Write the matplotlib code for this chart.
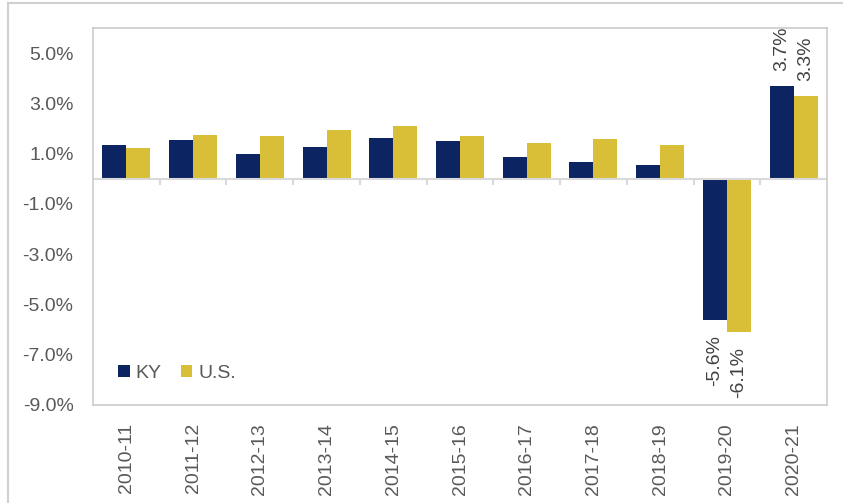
import matplotlib.pyplot as plt
from matplotlib.lines import Line2D
import numpy as np

years = ['2010-11', '2011-12', '2012-13', '2013-14', '2014-15', '2015-16',
         '2016-17', '2017-18', '2018-19', '2019-20', '2020-21']
ky = [1.33, 1.55, 1.0, 1.27, 1.62, 1.49, 0.85, 0.68, 0.53, -5.6, 3.7]
us = [1.23, 1.76, 1.72, 1.96, 2.11, 1.70, 1.41, 1.58, 1.35, -6.1, 3.3]
labeled = ['2019-20', '2020-21']

navy = '#0c2461'
gold = '#d9bf38'
txt = '#595959'

plt.rcParams['font.family'] = ['Liberation Sans', 'DejaVu Sans']

fig = plt.figure(figsize=(8.43, 5.03), dpi=100)
ax = fig.add_axes([93/843, 1 - 405/503, 734/843, 377/503])

x = np.arange(len(years))
w = 0.36
b1 = ax.bar(x - w/2, ky, w, color=navy, label='KY')
b2 = ax.bar(x + w/2, us, w, color=gold, label='U.S.')

# data labels only for the last two years
for bars, vals in ((b1, ky), (b2, us)):
    for i, (r, v) in enumerate(zip(bars, vals)):
        if years[i] not in labeled:
            continue
        off = 11 if v > 0 else -11
        ax.annotate(f'{v:.1f}%', (r.get_x() + r.get_width()/2, v),
                    xytext=(0, off), textcoords='offset points',
                    rotation=90, ha='center',
                    va='bottom' if v > 0 else 'top',
                    fontsize=14, color='#404040')

ax.set_xlim(-0.5, len(years) - 0.5)
ax.set_ylim(-9, 6)
ax.set_yticks(np.arange(-9, 6, 2))
ax.set_yticklabels([f'{t:.1f}%' for t in np.arange(-9, 6, 2)])
ax.tick_params(axis='y', length=0, pad=14, labelsize=14, labelcolor=txt)

# zero line with category separators
ax.axhline(0, color='#d9d9d9', lw=1.5, zorder=1)
for s in np.arange(0.5, len(years) - 0.5, 1):
    ax.plot([s, s], [0, -0.22], color='#d9d9d9', lw=1.5, zorder=1)

ax.set_xticks(x)
ax.set_xticklabels(years, rotation=90)
ax.tick_params(axis='x', length=0, pad=13, labelsize=14, labelcolor=txt)

for sp in ax.spines.values():
    sp.set_color('#cccccc')
    sp.set_linewidth(1.2)

ax.legend(loc='lower left', bbox_to_anchor=(0.01, 0.015), frameon=False,
          ncol=2, fontsize=14, labelcolor=txt, handlelength=0.6,
          handleheight=0.6, handletextpad=0.3, columnspacing=1.0)

# outer frame
fig.add_artist(Line2D([8/843, 8/843], [0, 1 - 3/503], color='#d0d0d0', lw=1.5))
fig.add_artist(Line2D([8/843, 1], [1 - 3/503, 1 - 3/503], color='#d0d0d0', lw=1.5))

fig.savefig('out.png', dpi=100)
